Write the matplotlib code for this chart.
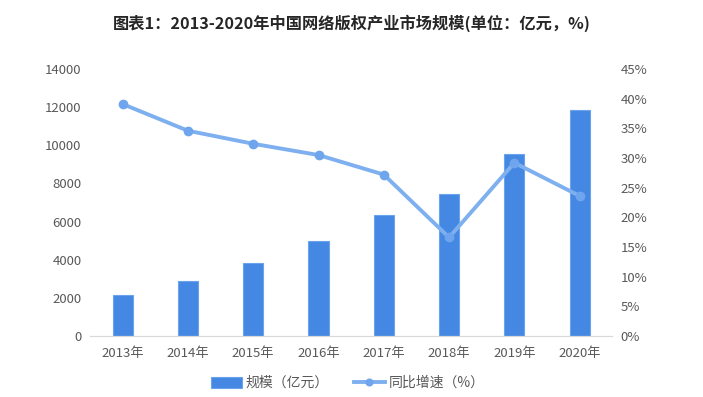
import numpy as np
import matplotlib
matplotlib.use("Agg")
import matplotlib.pyplot as plt
from matplotlib.ticker import FuncFormatter

plt.rcParams['font.family'] = ['Noto Sans CJK SC', 'DejaVu Sans']

# dados
anos = ["2013年", "2014年", "2015年", "2016年", "2017年", "2018年", "2019年", "2020年"]
escala = [2150, 2890, 3810, 4970, 6330, 7430, 9560, 11840]
crescimento = [39.1, 34.6, 32.4, 30.5, 27.2, 16.6, 29.2, 23.6]

cor_barra = "#4488E3"
cor_linha = "#7EB0F0"
cor_texto = "#595959"

fig = plt.figure(figsize=(7.03, 3.97), dpi=100)
ax = fig.add_axes([0.128, 0.154, 0.743, 0.672])
ax2 = ax.twinx()

x = np.arange(len(anos))
ax.bar(x, escala, width=0.31, color=cor_barra, edgecolor="#6BA3EE", linewidth=0.8,
       label="规模（亿元）", zorder=2)
ax2.plot(x, crescimento, color=cor_linha, linewidth=2.8, marker="o", markersize=6,
         markerfacecolor="#6FA5EC", markeredgecolor="#6FA5EC", label="同比增速（%）", zorder=3)

ax.set_xlim(-0.5, len(anos) - 0.5)
ax.set_ylim(0, 14000)
ax.set_yticks(np.arange(0, 14001, 2000))
ax2.set_ylim(0, 45)
ax2.set_yticks(np.arange(0, 46, 5))
ax2.yaxis.set_major_formatter(FuncFormatter(lambda v, p: f"{v:.0f}%"))

ax.set_xticks(x)
ax.set_xticklabels(anos)

for a in (ax, ax2):
    for s in ("top", "left", "right"):
        a.spines[s].set_visible(False)
    a.spines["bottom"].set_color("#D9D9D9")
    a.tick_params(axis="both", length=0, labelsize=9.5, colors=cor_texto, pad=6)
ax.tick_params(axis="x", pad=8)
ax.set_zorder(ax2.get_zorder() - 1)
ax.patch.set_visible(False)

fig.text(0.5, 0.942, "图表1：2013-2020年中国网络版权产业市场规模(单位：亿元，%)",
         ha="center", va="center", fontsize=11.7, fontweight="bold", color="#262626")

h1, l1 = ax.get_legend_handles_labels()
h2, l2 = ax2.get_legend_handles_labels()
leg = fig.legend(h1 + h2, l1 + l2, loc="center", bbox_to_anchor=(0.495, 0.035), ncol=2,
                 frameon=False, fontsize=10, labelcolor=cor_texto, handlelength=2.2,
                 handleheight=0.8, columnspacing=1.8, handletextpad=0.3, markerscale=0.8)

fig.savefig("out.png", dpi=100)
